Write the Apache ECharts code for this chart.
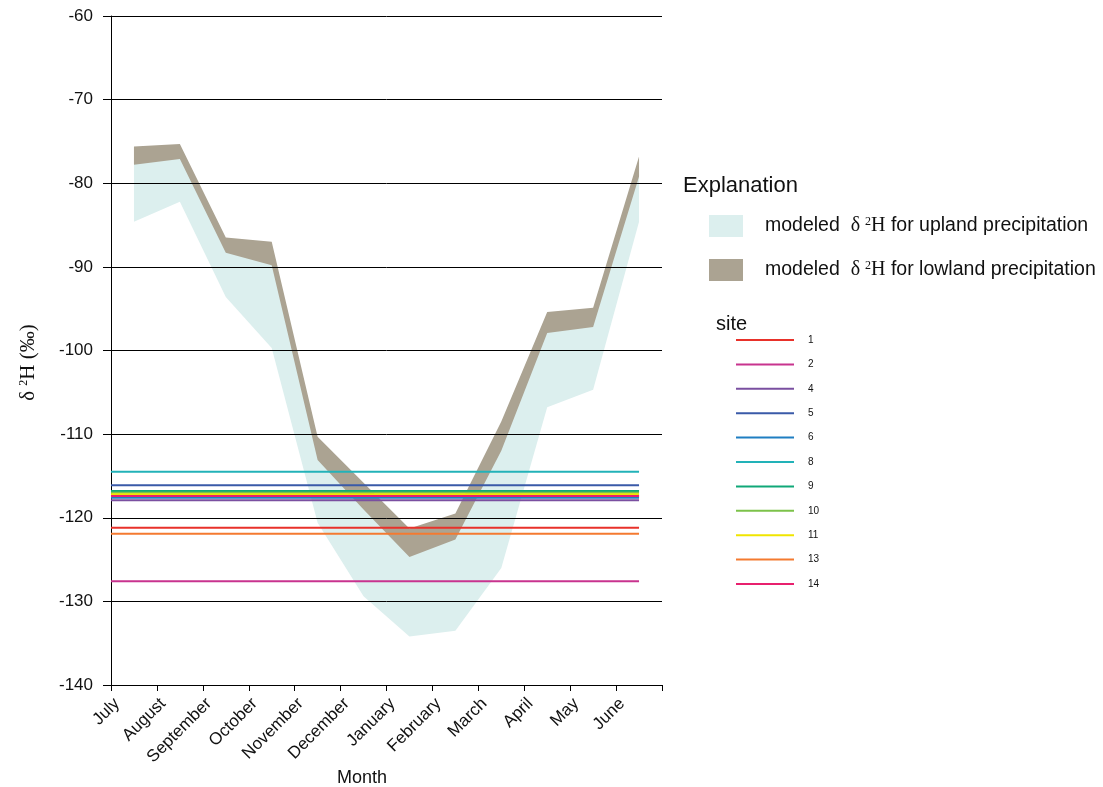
<!DOCTYPE html>
<html>
<head>
<meta charset="utf-8">
<script src="https://cdn.jsdelivr.net/npm/echarts@6/dist/echarts.min.js"></script>
<style>
  html, body { margin: 0; padding: 0; background: #fff; }
  #chart { width: 1103px; height: 787px; }
</style>
</head>
<body>
<div id="chart"></div>
<script>
// Month categories (July to June water year)
const months = ['July', 'August', 'September', 'October', 'November', 'December',
                'January', 'February', 'March', 'April', 'May', 'June'];

// Modeled δ2H bands (‰), one value per month
const uplandUpper  = [-77.0, -76.3, -87.5, -88.8, -112.0, -117.8, -123.5, -121.5, -110.8, -96.8, -96.2, -78.2];
const uplandLower  = [-84.6, -82.2, -93.6, -99.7, -120.6, -129.4, -134.2, -133.5, -126.0, -106.8, -104.7, -84.6];
const lowlandUpper = [-75.6, -75.3, -86.5, -87.0, -110.3, -115.8, -121.3, -119.5, -108.5, -95.4, -94.9, -76.8];
const lowlandLower = [-77.8, -77.1, -88.3, -89.8, -113.1, -119.0, -124.7, -122.6, -112.0, -97.9, -97.2, -79.2];

// Measured site values (‰)
const siteNames  = ['1', '2', '4', '5', '6', '8', '9', '10', '11', '13', '14'];
const siteValues = [-121.2, -127.6, -117.9, -116.1, -117.6, -114.5, -116.8, -117.0, -117.2, -121.9, -117.4];
const siteColors = ['#e8312a', '#c8338e', '#7a4fa0', '#3a5aa8', '#1f7ec2', '#22b2b8',
                    '#10a878', '#7cc24a', '#f0e500', '#f47a30', '#e8206e'];

const SANS = 'Liberation Sans, Arial, sans-serif';
const SERIF = 'Liberation Serif, Times New Roman, serif';

// Filled band between an upper and a lower boundary, placed at month centres
function bandSeries(name, upper, lower, color) {
  return {
    type: 'custom',
    name: name,
    z: 1,
    silent: true,
    itemStyle: { color: color },
    data: upper.map((v, i) => [i + 0.5, v, lower[i]]),
    renderItem: function (params, api) {
      if (params.dataIndex !== 0) return null;
      const pts = [];
      for (let i = 0; i < upper.length; i++) pts.push(api.coord([i + 0.5, upper[i]]));
      for (let i = lower.length - 1; i >= 0; i--) pts.push(api.coord([i + 0.5, lower[i]]));
      return { type: 'polygon', shape: { points: pts }, style: { fill: color } };
    }
  };
}

const siteSeries = siteNames.map((n, i) => ({
  type: 'line',
  name: n,
  z: 4,
  silent: true,
  symbol: 'none',
  color: siteColors[i],
  lineStyle: { width: 2, color: siteColors[i] },
  data: [[0, siteValues[i]], [11.5, siteValues[i]]]
}));

const legendRich = {
  s: { width: 17 },
  a: { fontFamily: SANS, fontSize: 19.5, color: '#111' },
  g: { fontFamily: SERIF, fontSize: 20, color: '#111' },
  p: { fontFamily: SERIF, fontSize: 12, color: '#111', verticalAlign: 'top' }
};

const chart = echarts.init(document.getElementById('chart'), null, { renderer: 'canvas' });
chart.setOption({
  animation: false,
  backgroundColor: '#fff',
  title: [
    { text: 'Explanation', left: 678, top: 170,
      textStyle: { fontFamily: SANS, fontSize: 22, fontWeight: 'normal', color: '#111' } },
    { text: 'site', left: 711, top: 309,
      textStyle: { fontFamily: SANS, fontSize: 20, fontWeight: 'normal', color: '#111' } }
  ],
  legend: [
    {
      orient: 'vertical', left: 704, top: 210,
      itemWidth: 34, itemHeight: 22, itemGap: 22,
      selectedMode: false,
      data: [{ name: 'upland', icon: 'rect' }, { name: 'lowland', icon: 'rect' }],
      formatter: function (name) {
        return '{s| }{a|modeled  }{g|δ }{p|2}{g|H}{a| for ' + name + ' precipitation}';
      },
      textStyle: { rich: legendRich }
    },
    {
      orient: 'vertical', left: 731, top: 328,
      itemWidth: 58, itemHeight: 2, itemGap: 10.4,
      selectedMode: false,
      data: siteNames.map(n => ({ name: n, icon: 'rect' })),
      textStyle: { fontFamily: SANS, fontSize: 10, color: '#111', lineHeight: 14, padding: [0, 0, 0, 9] }
    }
  ],
  grid: { left: 111, top: 16, width: 551, height: 669, containLabel: false, outerBoundsMode: 'none' },
  xAxis: {
    type: 'value', min: 0, max: 12, interval: 1, z: 3,
    name: 'Month', nameLocation: 'middle', nameGap: 84, nameMoveOverlap: false,
    nameTextStyle: { fontFamily: SANS, fontSize: 18, color: '#111', padding: [0, 49, 0, 0] },
    axisLine: { show: true, onZero: false, lineStyle: { color: '#000', width: 1 } },
    axisTick: { show: true, inside: false, length: 6, lineStyle: { color: '#000' } },
    splitLine: { show: false },
    axisLabel: {
      rotate: 45, margin: 10, align: 'right', verticalAlign: 'top',
      fontFamily: SANS, fontSize: 17, color: '#111',
      formatter: v => months[v] || ''
    }
  },
  yAxis: {
    type: 'value', min: -140, max: -60, interval: 10, z: 3,
    name: '{d|δ }{s|2}{d|H (‰)}', nameLocation: 'middle', nameRotate: 90, nameGap: 72,
    nameTextStyle: {
      padding: [0, 24, 0, 0],
      rich: {
        d: { fontFamily: SERIF, fontSize: 21, color: '#111' },
        s: { fontFamily: SERIF, fontSize: 12, color: '#111', verticalAlign: 'top' }
      }
    },
    axisLine: { show: true, onZero: false, lineStyle: { color: '#000', width: 1 } },
    axisTick: { show: true, inside: false, length: 8, lineStyle: { color: '#000' } },
    splitLine: { show: true, lineStyle: { color: '#000', width: 1 } },
    axisLabel: { margin: 18, fontFamily: SANS, fontSize: 17, color: '#111' }
  },
  series: [
    bandSeries('upland', uplandUpper, uplandLower, '#dcefee'),
    bandSeries('lowland', lowlandUpper, lowlandLower, '#aba392')
  ].concat(siteSeries)
});
</script>
</body>
</html>
